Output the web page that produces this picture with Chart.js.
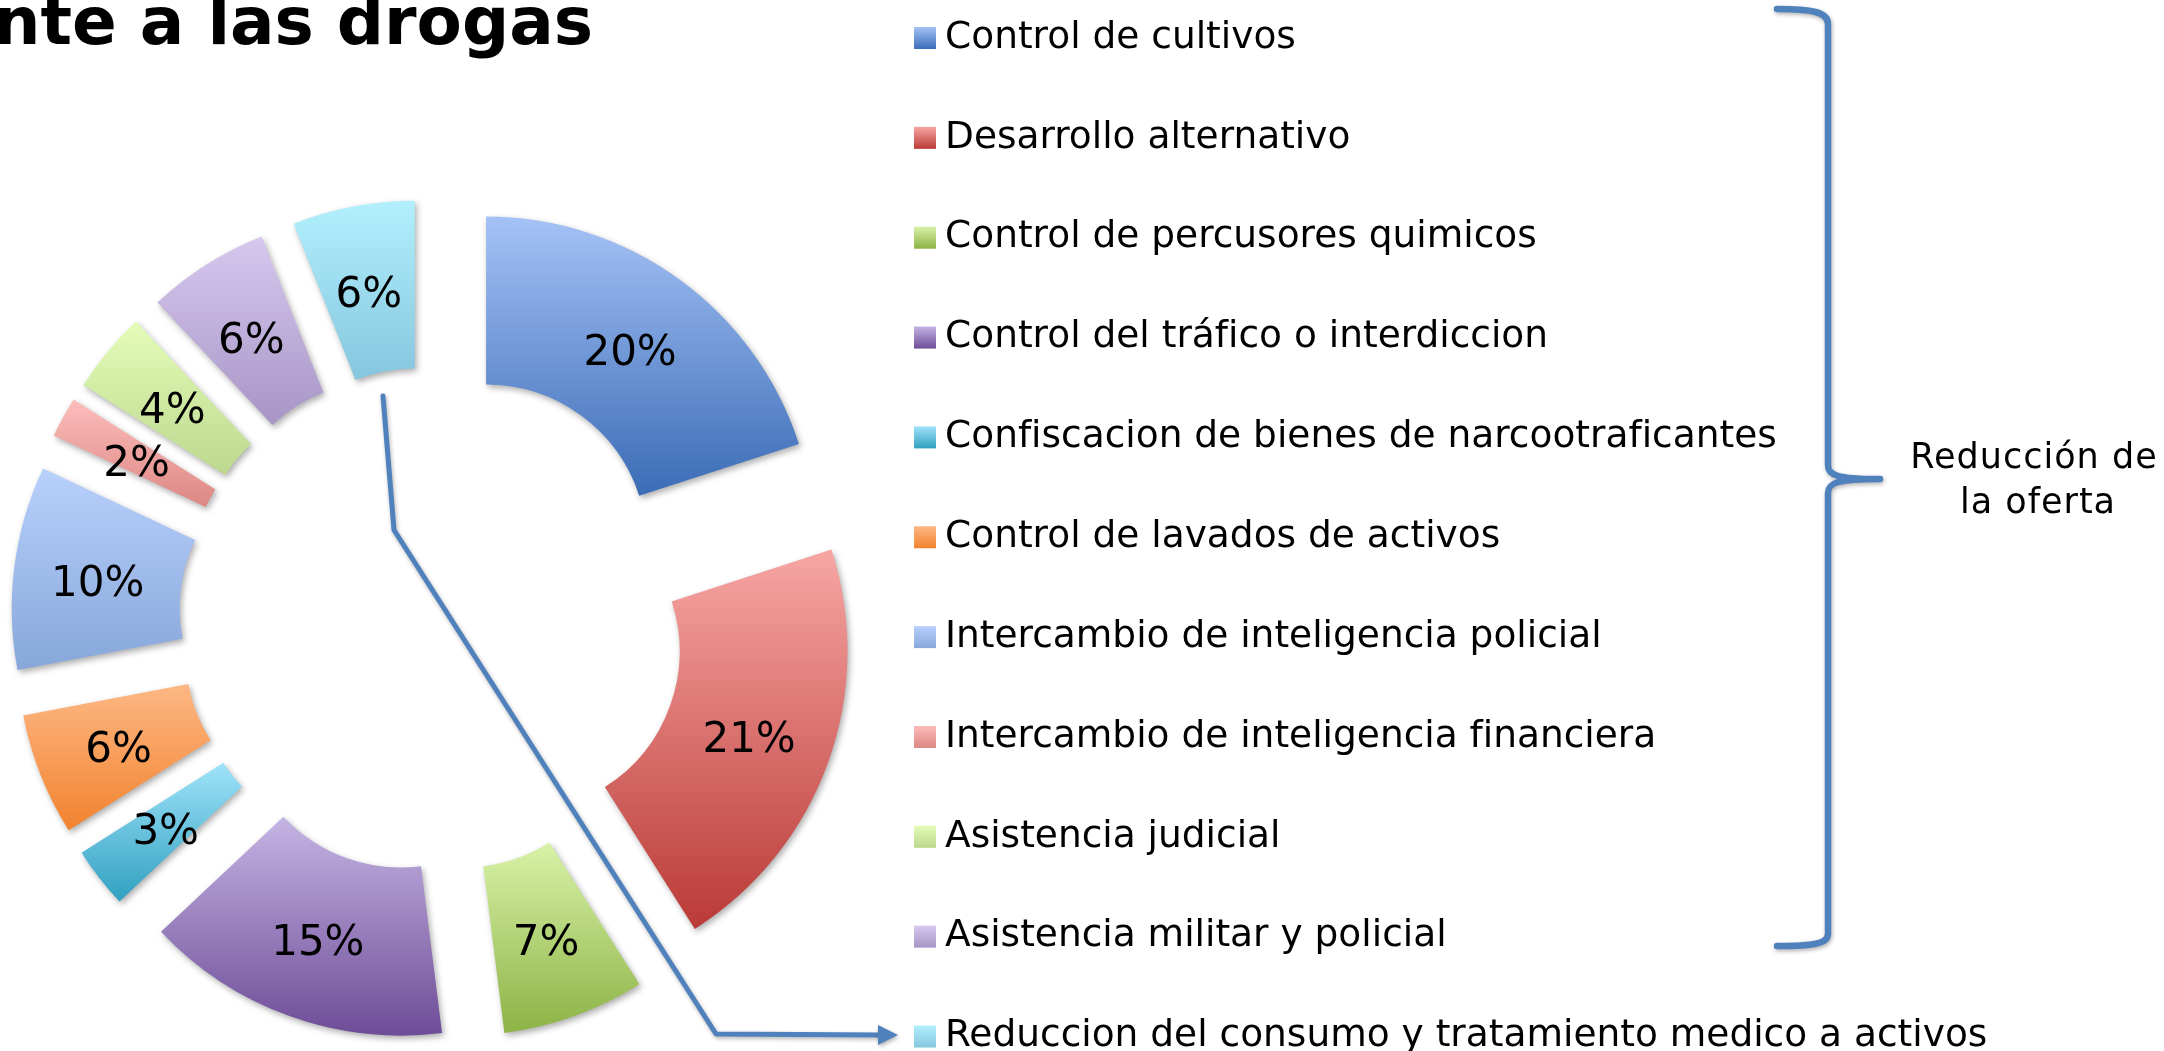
<!DOCTYPE html>
<html lang="es">
<head>
<meta charset="utf-8">
<title>Gasto frente a las drogas</title>
<script src="https://cdn.jsdelivr.net/npm/chart.js@4.4.1/dist/chart.umd.min.js"></script>
<style>
  html, body { margin: 0; padding: 0; background: #fff; overflow: hidden; }
  #grafico { display: block; }
</style>
</head>
<body>
<canvas id="grafico" width="2164" height="1051"></canvas>
<script>
// porciones en sentido horario, empezando arriba
const categorias = [
    'Control de cultivos',
    'Desarrollo alternativo',
    'Control de percusores quimicos',
    'Control del tráfico o interdiccion',
    'Confiscacion de bienes de narcootraficantes',
    'Control de lavados de activos',
    'Intercambio de inteligencia policial',
    'Intercambio de inteligencia financiera',
    'Asistencia judicial',
    'Asistencia militar y policial',
    'Reduccion del consumo y tratamiento medico a activos'
]
const porcentajes = [20, 21, 7, 15, 3, 6, 10, 2, 4, 6, 6]

// degradado de cada porción: arriba claro, abajo oscuro
const coloresClaros = ['#a5c2f6', '#f7a6a4', '#d8f2a8', '#c4b4e3', '#9fe3fa', '#fdb884',
    '#b8d0fc', '#fcbdbb', '#e4fcb8', '#d6c8ef', '#b2f0fd']
const coloresOscuros = ['#3a6cb6', '#ba3a36', '#8db346', '#6e4c97', '#31a0c0', '#f2822e',
    '#87a7da', '#dd8784', '#bcd88e', '#a795c5', '#86c6de']

const tituloTexto = 'frente a las drogas'
const grupoTexto = ['Reducción de', 'la oferta']

const FUENTE = "'DejaVu Sans', Verdana, sans-serif"
const AZUL = '#4f81bd'
const RADIO_EXT = 329
const RADIO_INT = 161
const EXPLOSION = 92

const degradado = (ctx, y0, y1, i) => {
    const g = ctx.createLinearGradient(0, y0, 0, y1)
    g.addColorStop(0, coloresClaros[i])
    g.addColorStop(1, coloresOscuros[i])
    return g
}

// separar las porciones del centro y ponerles su degradado
const explotarPorciones = {
    id: 'explotarPorciones',
    afterDatasetUpdate(chart, args) {
        args.meta.data.forEach((arc, i) => {
            const medio = (arc.startAngle + arc.endAngle) / 2
            arc.x += Math.cos(medio) * EXPLOSION
            arc.y += Math.sin(medio) * EXPLOSION
            let yMin = Infinity, yMax = -Infinity
            for (let k = 0; k <= 40; k++) {
                const a = arc.startAngle + (arc.endAngle - arc.startAngle) * k / 40
                for (const r of [arc.innerRadius, arc.outerRadius]) {
                    const y = arc.y + Math.sin(a) * r
                    yMin = Math.min(yMin, y)
                    yMax = Math.max(yMax, y)
                }
            }
            arc.options.backgroundColor = degradado(chart.ctx, yMin, yMax, i)
        })
    }
}

const sombra = {
    id: 'sombra',
    beforeDatasetDraw(chart) {
        const c = chart.ctx
        c.save()
        c.shadowColor = 'rgba(0,0,0,0.32)'
        c.shadowBlur = 6
        c.shadowOffsetX = 2
        c.shadowOffsetY = 3
    },
    afterDatasetDraw(chart) {
        chart.ctx.restore()
    }
}

// porcentajes dentro de cada porción
const etiquetas = {
    id: 'etiquetas',
    afterDatasetsDraw(chart) {
        const c = chart.ctx
        const meta = chart.getDatasetMeta(0)
        c.save()
        c.font = `42px ${FUENTE}`
        c.fillStyle = '#000'
        c.textAlign = 'center'
        c.textBaseline = 'middle'
        meta.data.forEach((arc, i) => {
            const medio = (arc.startAngle + arc.endAngle) / 2
            const r = (arc.innerRadius + arc.outerRadius) / 2
            c.fillText(chart.data.datasets[0].data[i] + '%',
                arc.x + Math.cos(medio) * r, arc.y + Math.sin(medio) * r + 7)
        })
        c.restore()
    }
}

// leyenda en una sola columna
const leyenda = {
    id: 'leyenda',
    afterDraw(chart) {
        const c = chart.ctx
        const x = 914, y0 = 27, paso = 99.85, lado = 22
        c.save()
        c.font = `37.5px ${FUENTE}`
        c.textBaseline = 'middle'
        chart.data.labels.forEach((txt, i) => {
            const y = y0 + i * paso
            c.fillStyle = degradado(c, y, y + lado, i)
            c.fillRect(x, y, lado, lado)
            c.fillStyle = '#000'
            c.fillText(txt, 945, y + lado / 2)
        })
        c.restore()
    }
}

// título, llave, flecha y texto del grupo
const anotaciones = {
    id: 'anotaciones',
    afterDraw(chart) {
        const c = chart.ctx
        c.save()
        c.fillStyle = '#000'
        c.font = `bold 66px ${FUENTE}`
        c.textAlign = 'right'
        c.textBaseline = 'alphabetic'
        c.fillText(tituloTexto, 593, 44)

        c.font = `35px ${FUENTE}`
        c.letterSpacing = '1px'
        c.textAlign = 'center'
        c.fillText(grupoTexto[0], 2034, 468)
        c.fillText(grupoTexto[1], 2038, 513)
        c.letterSpacing = '0px'

        c.shadowColor = 'rgba(0,0,0,0.3)'
        c.shadowBlur = 4
        c.shadowOffsetX = 1
        c.shadowOffsetY = 2
        c.strokeStyle = AZUL
        c.lineCap = 'round'
        c.lineJoin = 'round'

        // llave
        c.lineWidth = 6.5
        c.beginPath()
        c.moveTo(1777, 9)
        c.bezierCurveTo(1812, 9, 1828, 12, 1828, 24)
        c.lineTo(1828, 465)
        c.bezierCurveTo(1828, 475, 1836, 479, 1880, 479)
        c.moveTo(1880, 479)
        c.bezierCurveTo(1836, 479, 1828, 483, 1828, 493)
        c.lineTo(1828, 934)
        c.bezierCurveTo(1828, 944, 1812, 946, 1777, 946)
        c.stroke()

        // flecha hacia el último elemento de la leyenda
        c.lineWidth = 5
        c.beginPath()
        c.moveTo(383, 396)
        c.lineTo(394, 530)
        c.lineTo(716, 1034)
        c.lineTo(882, 1035)
        c.stroke()
        c.fillStyle = AZUL
        c.beginPath()
        c.moveTo(898, 1035)
        c.lineTo(878, 1025)
        c.lineTo(878, 1045)
        c.closePath()
        c.fill()
        c.restore()
    }
}

new Chart(document.getElementById('grafico'), {
    type: 'doughnut',
    data: {
        labels: categorias,
        datasets: [{
            data: porcentajes,
            backgroundColor: coloresOscuros,
            borderWidth: 0,
            clip: false
        }]
    },
    options: {
        responsive: false,
        animation: false,
        events: [],
        radius: RADIO_EXT,
        cutout: (RADIO_INT / RADIO_EXT * 100).toFixed(2) + '%',
        layout: { padding: { left: 0, right: 1300, top: 189, bottom: 0 } },
        plugins: {
            legend: { display: false },
            tooltip: { enabled: false }
        }
    },
    plugins: [explotarPorciones, sombra, etiquetas, leyenda, anotaciones]
})
</script>
</body>
</html>
